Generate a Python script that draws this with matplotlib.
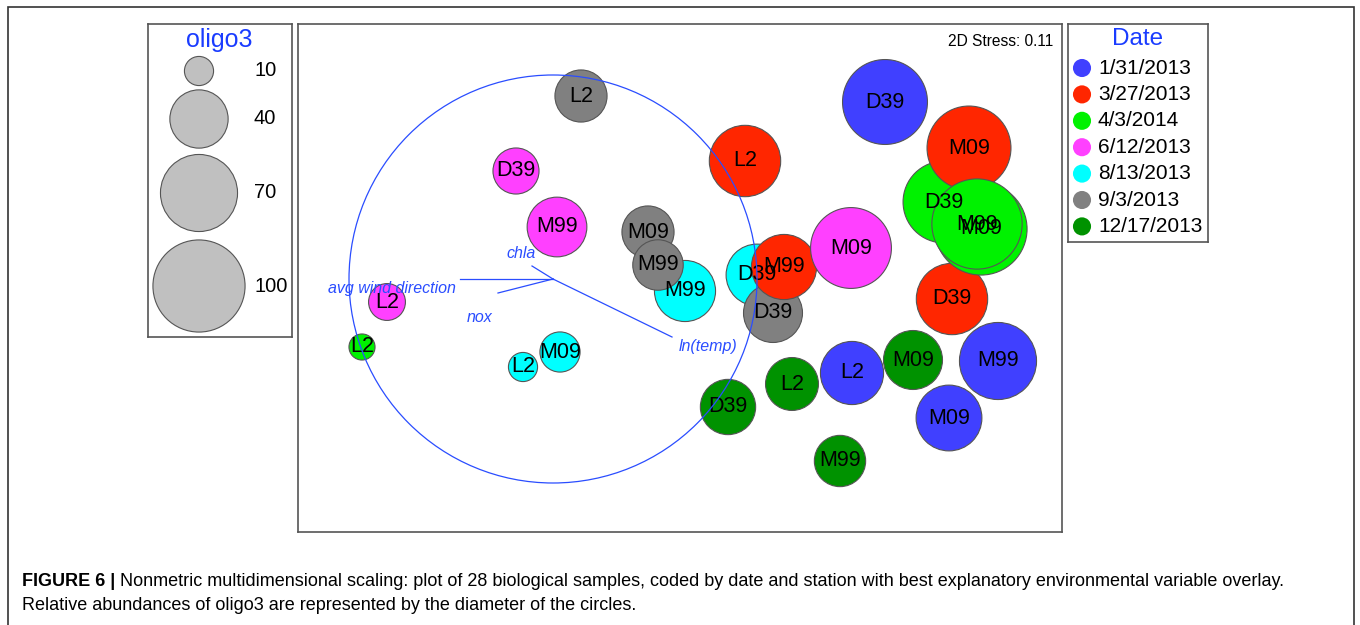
import numpy as np
import matplotlib
matplotlib.use('Agg')
import matplotlib.pyplot as plt
from matplotlib.patches import Rectangle, Circle

plt.rcParams['font.family'] = ['Liberation Sans', 'DejaVu Sans']

# NMDS sample scores (drawing order matters for overlaps)
station = ['L2', 'D39', 'M99', 'M09', 'M99', 'M99', 'L2', 'D39', 'D39', 'M99',
           'M09', 'D39', 'D39', 'M09', 'D39', 'M09', 'M99', 'M99', 'M09', 'M09',
           'L2', 'L2', 'D39', 'M99', 'L2', 'L2', 'M09', 'L2']
date = ['9/3/2013', '6/12/2013', '6/12/2013', '9/3/2013', '8/13/2013', '9/3/2013',
        '3/27/2013', '8/13/2013', '9/3/2013', '3/27/2013', '6/12/2013', '1/31/2013',
        '4/3/2014', '3/27/2013', '3/27/2013', '4/3/2014', '4/3/2014', '1/31/2013',
        '1/31/2013', '12/17/2013', '1/31/2013', '12/17/2013', '12/17/2013',
        '12/17/2013', '6/12/2013', '4/3/2014', '8/13/2013', '8/13/2013']
nmds1 = [0.14, -0.185, 0.02, 0.475, 0.66, 0.525, 0.96, 1.02, 1.10, 1.155,
         1.49, 1.66, 1.955, 2.08, 1.995, 2.14, 2.12, 2.225, 1.98, 1.80,
         1.495, 1.195, 0.875, 1.435, -0.83, -0.955, 0.035, -0.15]
nmds2 = [0.915, 0.54, 0.26, 0.235, -0.06, 0.07, 0.59, 0.02, -0.17, 0.06,
         0.155, 0.885, 0.385, 0.655, -0.10, 0.25, 0.275, -0.41, -0.695, -0.405,
         -0.47, -0.525, -0.64, -0.91, -0.115, -0.34, -0.365, -0.44]
oligo3 = [32, 25, 42, 32, 44, 30, 60, 45, 41, 50,
          77, 85, 79, 83, 60, 100, 96, 70, 51, 41,
          47, 33, 36, 31, 16, 8, 19, 10]

date_order = ['1/31/2013', '3/27/2013', '4/3/2014', '6/12/2013', '8/13/2013',
              '9/3/2013', '12/17/2013']
date_colors = ['#4040ff', '#ff2600', '#00f200', '#ff40ff', '#00ffff', '#808080', '#009200']

# environmental vectors
vec_names = ['avg wind direction', 'nox', 'chla', 'ln(temp)']
vec_x = [-0.465, -0.275, -0.105, 0.595]
vec_y = [0.0, -0.07, 0.065, -0.29]
vec_circle_r = 1.02

size_legend_vals = [10, 40, 70, 100]

blue = '#2a4dff'
title_blue = '#1a3cff'
edge = '#555555'
W, H = 1360, 625


def px_box(x0, y0, w, h):
    return [x0 / W, 1 - (y0 + h) / H, w / W, h / H]


fig = plt.figure(figsize=(W / 100, H / 100), dpi=100)

# outer frame
fig.add_artist(Rectangle((8 / W, -0.02), 1346 / W, 1.02 - 7 / H, transform=fig.transFigure,
                         fill=False, ec='#333333', lw=1.2))

# main NMDS plot
ax = fig.add_axes(px_box(298, 24, 764, 508))
cmap = dict(zip(date_order, date_colors))
ax.scatter(nmds1, nmds2, s=[44 * v for v in oligo3], c=[cmap[d] for d in date],
           edgecolors=edge, linewidths=0.8, zorder=2)
for x, y, s in zip(nmds1, nmds2, station):
    ax.text(x, y, s, ha='center', va='center', fontsize=15.5, zorder=3)

ax.add_patch(Circle((0, 0), vec_circle_r, fill=False, ec=blue, lw=0.9, zorder=4))
label_off = [(-3, -7), (-4, -18), (-8, 9), (5, -7)]
label_ha = ['right', 'right', 'center', 'left']
for name, x, y, off, ha in zip(vec_names, vec_x, vec_y, label_off, label_ha):
    ax.plot([0, x], [0, y], color=blue, lw=0.9, zorder=4)
    ax.annotate(name, (x, y), xytext=off, textcoords='offset points', ha=ha, va='center',
                fontsize=11.5, style='italic', color=blue, zorder=5)

ax.set_xlim(-1.275, 2.545)
ax.set_ylim(-1.265, 1.275)
ax.set_xticks([])
ax.set_yticks([])
for sp in ax.spines.values():
    sp.set_color(edge)
    sp.set_linewidth(1.2)
ax.text(0.988, 0.965, '2D Stress: 0.11', transform=ax.transAxes, ha='right', va='center',
        fontsize=11.2)

# size legend
lax = fig.add_axes(px_box(148, 24, 144, 313))
lax.set_xlim(0, 144)
lax.set_ylim(313, 0)
size_y = [47, 95, 169, 262]
lax.scatter([51] * 4, size_y, s=[44 * v for v in size_legend_vals], c='#c0c0c0',
            edgecolors=edge, linewidths=0.8)
for y, v in zip(size_y, size_legend_vals):
    lax.text(106, y, str(v), ha='left', va='center', fontsize=14.5)
lax.text(71, 16, 'oligo3', ha='center', va='center', fontsize=18, color=title_blue)
lax.set_xticks([])
lax.set_yticks([])
for sp in lax.spines.values():
    sp.set_color(edge)
    sp.set_linewidth(1.2)

# date legend
dax = fig.add_axes(px_box(1068, 24, 140, 218))
dax.set_xlim(0, 140)
dax.set_ylim(218, 0)
dax.text(70, 15, 'Date', ha='center', va='center', fontsize=17.5, color=title_blue)
for i, (d, c) in enumerate(zip(date_order, date_colors)):
    y = 44 + i * 26.4
    dax.scatter([14], [y], s=170, c=c, edgecolors='none')
    dax.text(30, y, d, ha='left', va='center', fontsize=15)
dax.set_xticks([])
dax.set_yticks([])
for sp in dax.spines.values():
    sp.set_color(edge)
    sp.set_linewidth(1.2)

# caption
t1 = fig.text(22 / W, 1 - 581 / H, 'FIGURE 6 |', fontsize=13, fontweight='bold',
              va='center', ha='left')
plt.annotate(' Nonmetric multidimensional scaling: plot of 28 biological samples, coded by date '
             'and station with best explanatory environmental variable overlay.',
             xy=(1, 0.5), xycoords=t1, va='center', ha='left', fontsize=13)
fig.text(22 / W, 1 - 606 / H,
         'Relative abundances of oligo3 are represented by the diameter of the circles.',
         fontsize=13, va='center', ha='left')

fig.savefig('out.png', dpi=100)
